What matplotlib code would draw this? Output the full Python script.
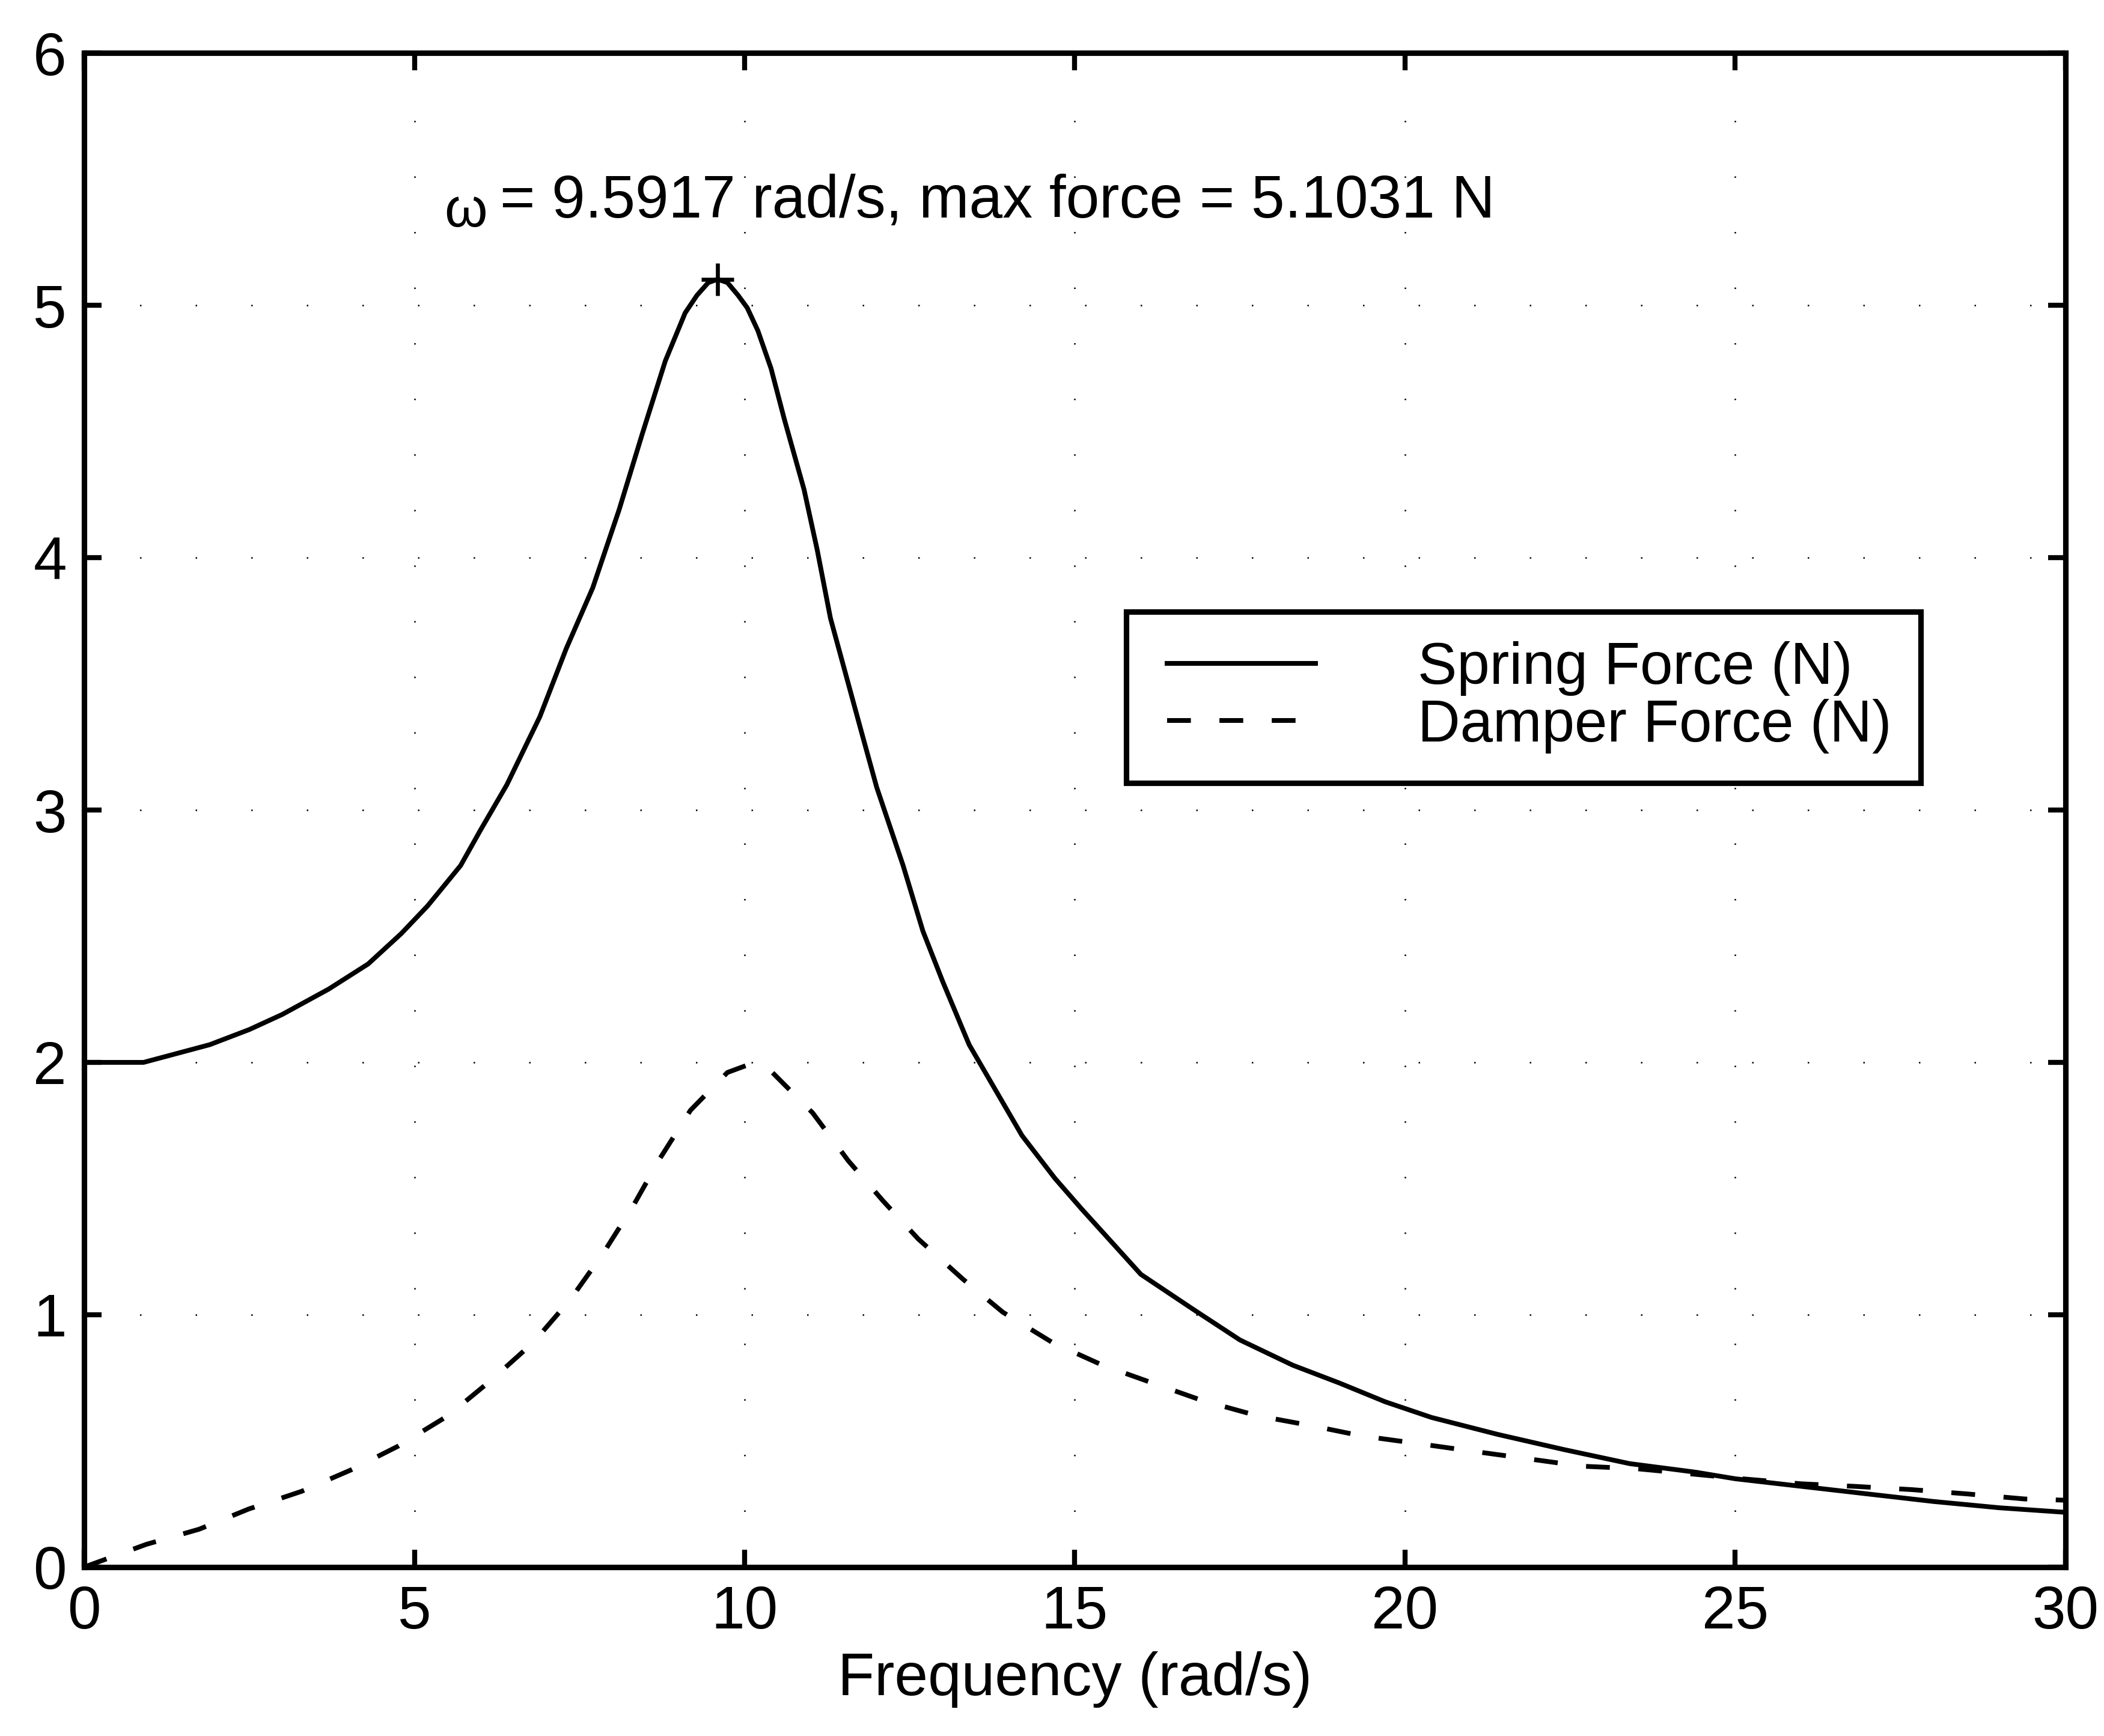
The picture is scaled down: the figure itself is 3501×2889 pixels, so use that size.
import numpy as np
import matplotlib
matplotlib.use("Agg")
import matplotlib.pyplot as plt
from matplotlib.legend_handler import HandlerLine2D

plt.rcParams['font.family'] = ['Liberation Sans', 'DejaVu Sans']

# values
freq_spring = [0, 0.9, 1.4, 1.9, 2.5, 3.0, 3.7, 4.3, 4.8, 5.2, 5.7, 6.0, 6.4, 6.9,
               7.3, 7.7, 8.1, 8.45, 8.8, 9.1, 9.28, 9.45, 9.5917, 9.74, 9.9, 10.04,
               10.2, 10.4, 10.6, 10.9, 11.1, 11.3, 11.55, 11.8, 12.0, 12.4, 12.7,
               13.0, 13.4, 13.8, 14.2, 14.7, 15.1, 16.0, 16.8, 17.5, 18.3, 19.0,
               19.7, 20.4, 21.4, 22.4, 23.4, 24.4, 25.0, 26.0, 27.0, 28.0, 29.0, 30.0]
spring_force = [2.00, 2.00, 2.035, 2.07, 2.13, 2.19, 2.29, 2.39, 2.51, 2.62, 2.78,
                2.92, 3.10, 3.37, 3.64, 3.88, 4.19, 4.49, 4.78, 4.97, 5.04, 5.09,
                5.1031, 5.09, 5.04, 4.99, 4.90, 4.75, 4.55, 4.27, 4.03, 3.76, 3.52,
                3.28, 3.09, 2.78, 2.52, 2.32, 2.07, 1.89, 1.71, 1.54, 1.42, 1.16,
                1.02, 0.90, 0.80, 0.73, 0.655, 0.593, 0.526, 0.466, 0.41, 0.376,
                0.35, 0.32, 0.29, 0.26, 0.235, 0.217]

freq_damper = [0, 0.94, 1.74, 2.49, 3.29, 4.04, 4.76, 5.51, 6.16, 6.80, 7.36, 7.85,
               8.31, 8.72, 9.18, 9.74, 10.05, 10.42, 11.03, 11.57, 12.1, 12.63,
               13.31, 13.91, 14.66, 15.42, 16.17, 16.93, 17.76, 18.59, 19.34,
               20.18, 21.0, 21.84, 22.67, 23.5, 24.3, 25.1, 26.0, 26.8, 27.67,
               28.51, 29.38, 30.0]
damper_force = [0, 0.09, 0.15, 0.23, 0.30, 0.385, 0.48, 0.60, 0.74, 0.89, 1.06,
                1.24, 1.43, 1.62, 1.81, 1.96, 1.99, 1.96, 1.80, 1.61, 1.45, 1.30,
                1.14, 1.01, 0.89, 0.80, 0.73, 0.66, 0.60, 0.56, 0.52, 0.49, 0.46,
                0.43, 0.40, 0.39, 0.37, 0.35, 0.33, 0.32, 0.307, 0.29, 0.27, 0.265]

w_peak = 9.5917
f_peak = 5.1031

x_ticks = [0, 5, 10, 15, 20, 25, 30]
y_ticks = [0, 1, 2, 3, 4, 5, 6]

fig = plt.figure(figsize=(3501 / 300, 2889 / 300), dpi=300)
ax = fig.add_axes([0.040, 0.0973, 0.9417, 0.8722])

l1, = ax.plot(freq_spring, spring_force, color='black', lw=1.9, label='Spring Force (N)')
l2, = ax.plot(freq_damper, damper_force, color='black', lw=1.9, linestyle=(0, (5, 6)),
              label='Damper Force (N)')
ax.plot([w_peak], [f_peak], marker='+', color='black', markersize=13, mew=1.6)

ax.text(5.45, 5.37, "ω", fontsize=22, ha='left', va='center')
ax.text(6.3, 5.41, "= %.4f rad/s, max force = %.4f N" % (w_peak, f_peak),
        fontsize=24, ha='left', va='center')

ax.set_xlim(0, 30)
ax.set_ylim(0, 6)
ax.set_xticks(x_ticks)
ax.set_yticks(y_ticks)
ax.tick_params(direction='in', length=7, width=2, labelsize=24, pad=7,
               top=True, right=True)
for s in ax.spines.values():
    s.set_linewidth(2.2)

ax.grid(True, color='black', lw=0.6, linestyle=(0, (1, 36)))
ax.set_xlabel("Frequency (rad/s)", fontsize=24, labelpad=4)

hl = HandlerLine2D(xpad=0.19)
leg = ax.legend(loc='upper left', bbox_to_anchor=(0.526, 0.631), borderaxespad=0,
                fontsize=23.5, frameon=True, fancybox=False,
                edgecolor='black', framealpha=1, borderpad=0.5,
                handlelength=2.71, handletextpad=1.74, labelspacing=0.05,
                handler_map={l1: hl, l2: hl})
leg.get_frame().set_linewidth(2.2)

fig.savefig("out.png", dpi=300)
